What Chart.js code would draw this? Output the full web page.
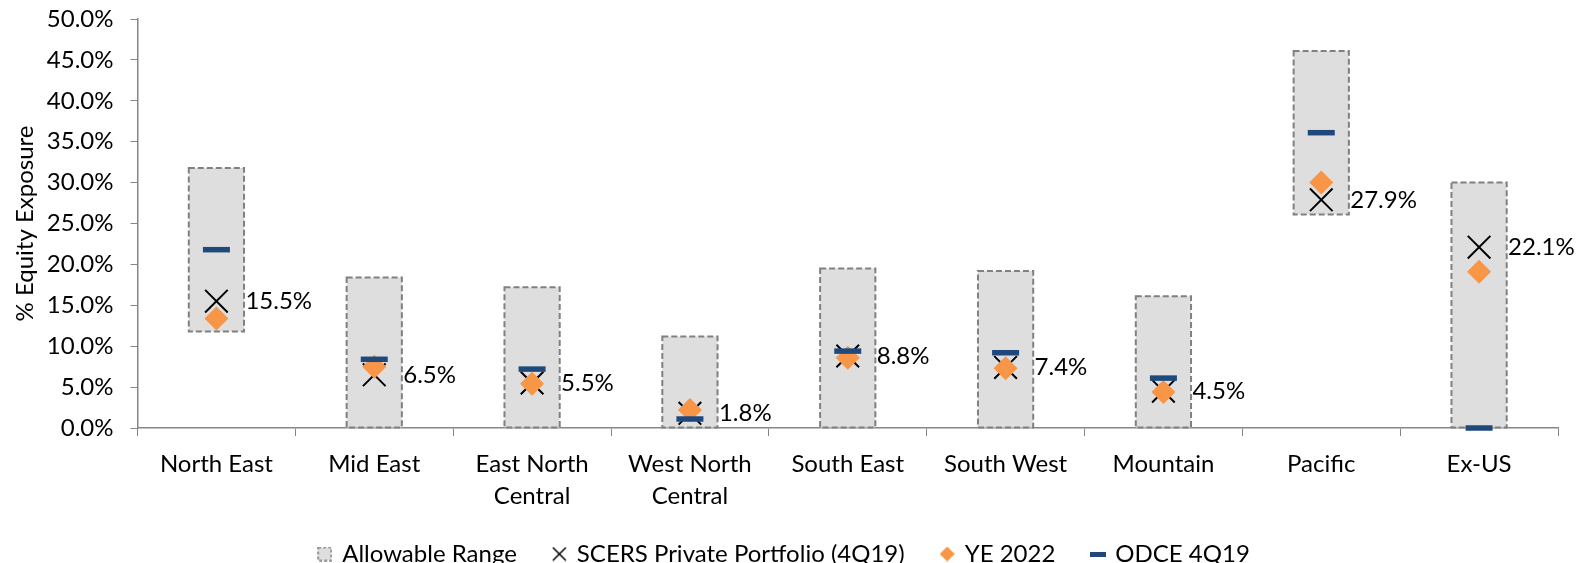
<!DOCTYPE html>
<html>

<head>
  <title>Equity Exposure by Region</title>
  <script src="https://cdn.jsdelivr.net/npm/chart.js"></script>
  <style>
    body { margin: 0; background: #fff; }
    #wrap { width: 1585px; height: 563px; }
  </style>
</head>

<body>
  <div id="wrap"><canvas id="exposureChart"></canvas></div>
  <script>
    // data
    const categories = ['North East', 'Mid East', ['East North', 'Central'], ['West North', 'Central'],
      'South East', 'South West', 'Mountain', 'Pacific', 'Ex-US'];
    const rangeLow = [11.8, 0, 0, 0, 0, 0, 0, 26.1, 0];
    const rangeHigh = [31.8, 18.4, 17.2, 11.2, 19.5, 19.2, 16.1, 46.1, 30.0];
    const scers = [15.5, 6.5, 5.5, 1.8, 8.8, 7.4, 4.5, 27.9, 22.1];
    const ye2022 = [13.4, 7.5, 5.4, 2.2, 8.6, 7.3, 4.4, 30.0, 19.1];
    const odce = [21.8, 8.4, 7.2, 1.1, 9.4, 9.2, 6.1, 36.1, 0.0];
    const yTicks = { min: 0, max: 50, step: 5 };

    Chart.defaults.font.family = 'Lato';
    Chart.defaults.font.size = 24;
    Chart.defaults.color = '#000';

    // small legend icons, so each can have its own size
    function makeIcon(w, h, draw) {
      const c = document.createElement('canvas');
      c.width = w;
      c.height = h;
      draw(c.getContext('2d'), w, h);
      return c;
    }
    const legendIcons = [
      makeIcon(15, 15, (g, w, h) => {
        g.fillStyle = '#DEDEDE';
        g.fillRect(1, 1, w - 2, h - 2);
        g.strokeStyle = '#808080';
        g.lineWidth = 1.5;
        g.setLineDash([3, 2]);
        g.strokeRect(1, 1, w - 2, h - 2);
      }),
      makeIcon(15, 15, (g, w, h) => {
        g.strokeStyle = '#000';
        g.lineWidth = 1.5;
        g.beginPath();
        g.moveTo(1, 1); g.lineTo(w - 1, h - 1);
        g.moveTo(w - 1, 1); g.lineTo(1, h - 1);
        g.stroke();
      }),
      makeIcon(15, 15, (g, w, h) => {
        g.fillStyle = '#F79646';
        g.beginPath();
        g.moveTo(w / 2, 0); g.lineTo(w, h / 2); g.lineTo(w / 2, h); g.lineTo(0, h / 2);
        g.closePath();
        g.fill();
      }),
      makeIcon(16, 5, (g, w, h) => {
        g.fillStyle = '#1F497D';
        g.fillRect(0, 0, w, h);
      })
    ];

    // dashed outline round the allowable range bars
    const rangeBorder = {
      id: 'rangeBorder',
      afterDatasetDraw(chart, args) {
        if (args.index !== 0) return;
        const ctx = chart.ctx;
        ctx.save();
        ctx.strokeStyle = '#808080';
        ctx.lineWidth = 2;
        ctx.setLineDash([6, 3]);
        args.meta.data.forEach(bar => {
          const p = bar.getProps(['x', 'y', 'base', 'width'], true);
          ctx.strokeRect(p.x - p.width / 2, Math.min(p.y, p.base), p.width, Math.abs(p.base - p.y));
        });
        ctx.restore();
      }
    };

    // value labels to the right of the SCERS marks
    const scersLabels = {
      id: 'scersLabels',
      afterDatasetsDraw(chart) {
        const ctx = chart.ctx;
        const meta = chart.getDatasetMeta(1);
        ctx.save();
        ctx.font = '24px Lato';
        ctx.fillStyle = '#000';
        ctx.textAlign = 'left';
        ctx.textBaseline = 'middle';
        meta.data.forEach((pt, i) => {
          ctx.fillText(scers[i].toFixed(1) + '%', pt.x + 29, pt.y);
        });
        ctx.restore();
      }
    };

    var ctx = document.getElementById('exposureChart').getContext('2d');
    var chart = new Chart(ctx, {
      type: 'bar',
      data: {
        labels: categories,
        datasets: [{
          label: 'Allowable Range',
          data: rangeLow.map((v, i) => [v, rangeHigh[i]]),
          backgroundColor: '#DEDEDE',
          borderWidth: 0,
          pointStyle: 'rect',
          barPercentage: 0.35,
          categoryPercentage: 1,
          order: 4
        }, {
          type: 'line',
          label: 'SCERS Private Portfolio (4Q19)',
          data: scers,
          showLine: false,
          pointStyle: 'crossRot',
          pointRadius: 16,
          pointHoverRadius: 16,
          pointBorderColor: '#000',
          pointBackgroundColor: '#000',
          pointBorderWidth: 2,
          borderColor: '#000',
          clip: false,
          order: 3
        }, {
          type: 'line',
          label: 'YE 2022',
          data: ye2022,
          showLine: false,
          pointStyle: 'rectRot',
          pointRadius: 12,
          pointHoverRadius: 12,
          pointBackgroundColor: '#F79646',
          pointBorderColor: '#F79646',
          pointBorderWidth: 0,
          backgroundColor: '#F79646',
          clip: false,
          order: 2
        }, {
          type: 'line',
          label: 'ODCE 4Q19',
          data: odce,
          showLine: false,
          pointStyle: 'line',
          pointRadius: 13.5,
          pointHoverRadius: 13.5,
          pointBorderColor: '#1F497D',
          pointBackgroundColor: '#1F497D',
          pointBorderWidth: 5.5,
          borderColor: '#1F497D',
          clip: false,
          order: 1
        }]
      },
      options: {
        responsive: true,
        maintainAspectRatio: false,
        animation: false,
        layout: {
          padding: { top: 19, right: 27, left: 11, bottom: 0 }
        },
        plugins: {
          tooltip: { enabled: false },
          legend: {
            position: 'bottom',
            maxHeight: 58,
            labels: {
              usePointStyle: true,
              boxWidth: 11,
              boxHeight: 15,
              padding: 37,
              font: { size: 24 },
              sort: (a, b) => a.datasetIndex - b.datasetIndex,
              generateLabels: function (chart) {
                const items = Chart.defaults.plugins.legend.labels.generateLabels(chart);
                items.forEach(item => {
                  item.pointStyle = legendIcons[item.datasetIndex];
                  item.lineDash = [];
                });
                return items;
              }
            }
          }
        },
        scales: {
          x: {
            afterFit: function (scale) {
              scale.height = 77;
            },
            grid: { display: true, drawOnChartArea: false, drawTicks: true, tickLength: 8, color: '#868686' },
            border: { color: '#868686', width: 1.5 },
            ticks: { padding: 13, maxRotation: 0, autoSkip: false, font: { size: 24, lineHeight: 1.3 } }
          },
          y: {
            min: yTicks.min,
            max: yTicks.max,
            afterFit: function (scale) {
              scale.width = 126.5;
              scale.paddingTop = 0;
              scale.paddingBottom = 0;
            },
            title: {
              display: true,
              text: '% Equity Exposure',
              font: { size: 24 },
              padding: { top: 0, bottom: 10 }
            },
            grid: { display: true, drawOnChartArea: false, drawTicks: true, tickLength: 7, color: '#868686' },
            border: { color: '#868686', width: 1.5 },
            ticks: {
              stepSize: yTicks.step,
              padding: 17,
              callback: function (value) {
                return value.toFixed(1) + '%';
              }
            }
          }
        }
      },
      plugins: [rangeBorder, scersLabels]
    });
  </script>
</body>

</html>
